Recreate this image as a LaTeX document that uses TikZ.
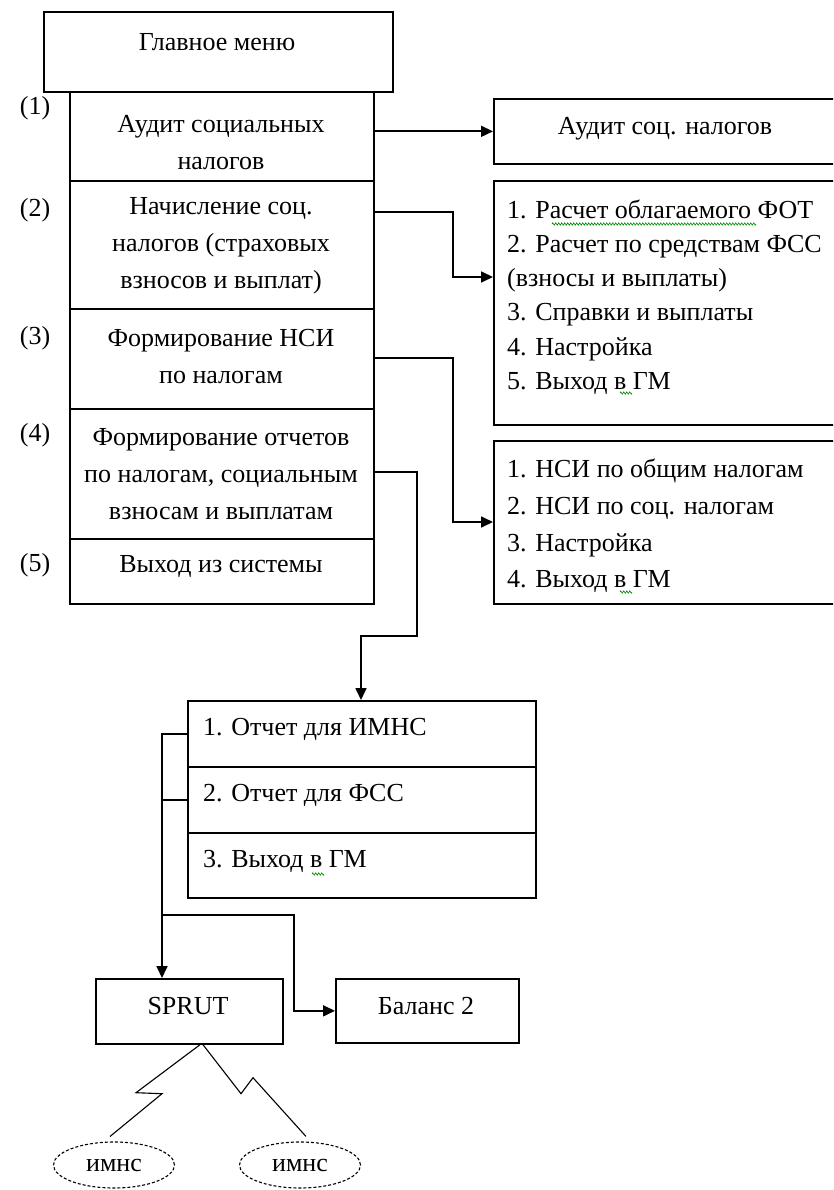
\documentclass[tikz,border=0pt]{standalone}
\usepackage{fontspec}
\setmainfont{Liberation Serif}
\usetikzlibrary{arrows.meta,calc,shapes.geometric,decorations.pathmorphing}

\begin{document}
\begin{tikzpicture}[x=1pt,y=-1pt,
  box/.style={draw, line width=1.7pt, inner sep=0pt, anchor=north west},
  txt/.style={font=\fontsize{26}{37}\selectfont, inner sep=0pt, align=center},
  ltxt/.style={font=\fontsize{26}{35}\selectfont, inner sep=0pt, align=left, anchor=west},
  num/.style={font=\fontsize{26}{30}\selectfont, inner sep=0pt},
  link/.style={line width=1.7pt, -{Triangle[length=12pt,width=11pt]}},
  wire/.style={line width=1.7pt},
  bolt/.style={line width=1.1pt},
  oval/.style={draw, ellipse, line width=1.1pt, dash pattern=on 3pt off 2pt,
    minimum width=121pt, minimum height=46pt, inner sep=0pt,
    font=\fontsize{26}{30}\selectfont},
  spell/.style={draw=green!55!black, line width=0.6pt, decorate,
    decoration={zigzag, segment length=3pt, amplitude=1.2pt}},
]
\useasboundingbox (0,0) rectangle (833,1190);
\clip (0,0) rectangle (833,1190);
\fill[white] (0,0) rectangle (833,1190);

% main menu and its items
\node[box, minimum width=349pt, minimum height=80pt] (gm) at (43,11) {};
\node[txt] (gmT) at (217,42) {Главное меню};

\node[box, minimum width=304pt, minimum height=89pt]  (item1) at (69,91) {};
\node[box, minimum width=304pt, minimum height=128pt] (item2) at (69,180) {};
\node[box, minimum width=304pt, minimum height=100pt] (item3) at (69,308) {};
\node[box, minimum width=304pt, minimum height=130pt] (item4) at (69,408) {};
\node[box, minimum width=304pt, minimum height=65pt]  (item5) at (69,538) {};

\node[txt] (item1T) at (221,143) {Аудит социальных\\налогов};
\node[txt] (item2T) at (221,246) {Начисление соц.\\налогов (страховых\\взносов и выплат)};
\node[txt] (item3T) at (221,357) {Формирование НСИ\\по налогам};
\node[txt] (item4T) at (221,474) {Формирование отчетов\\по налогам, социальным\\взносам и выплатам};
\node[txt] (item5T) at (221,566) {Выход из системы};

\node[num] (n1) at (35,108) {(1)};
\node[num] (n2) at (35,210) {(2)};
\node[num] (n3) at (35,338) {(3)};
\node[num] (n4) at (35,435) {(4)};
\node[num] (n5) at (35,565) {(5)};

% submenus on the right
\node[box, minimum width=360pt, minimum height=65pt]  (A) at (493,98) {};
\node[box, minimum width=360pt, minimum height=244pt] (B) at (493,180) {};
\node[box, minimum width=360pt, minimum height=163pt] (C) at (493,440) {};

\node[txt] (AT) at (665,129) {Аудит соц. налогов};
\node[ltxt, font=\fontsize{26}{34.2}\selectfont] (BT) at (507,297)
  {1. Расчет облагаемого ФОТ\\2. Расчет по средствам ФСС\\(взносы и выплаты)\\3. Справки и выплаты\\4. Настройка\\5. Выход в ГМ};
\node[ltxt, font=\fontsize{26}{36.7}\selectfont] (CT) at (507,526)
  {1. НСИ по общим налогам\\2. НСИ по соц. налогам\\3. Настройка\\4. Выход в ГМ};

% reports submenu
\node[box, minimum width=348pt, minimum height=66pt] (r1) at (187,700) {};
\node[box, minimum width=348pt, minimum height=66pt] (r2) at (187,766) {};
\node[box, minimum width=348pt, minimum height=65pt] (r3) at (187,832) {};
\node[ltxt] (r1T) at (203,729) {1. Отчет для ИМНС};
\node[ltxt] (r2T) at (203,795) {2. Отчет для ФСС};
\node[ltxt] (r3T) at (203,861) {3. Выход в ГМ};

% programs and receivers
\node[box, minimum width=187pt, minimum height=65pt] (sprut) at (95,978) {};
\node[box, minimum width=183pt, minimum height=64pt] (bal) at (335,978) {};
\node[txt] (sprutT) at (188,1006) {SPRUT};
\node[txt] (balT) at (426,1006) {Баланс 2};

\node[oval] (e1) at (114,1165) {имнс};
\node[oval] (e2) at (300,1165) {имнс};

% connectors
\draw[link] (item1.east |- A.west) -- (A.west);
\draw[link] ($(item2.north east)+(0,32)$) -| ($(B.north west)+(-40,97)$) -- ($(B.north west)+(0,97)$);
\draw[link] ($(item3.north east)+(0,50)$) -| ($(C.north west)+(-40,82)$) -- ($(C.north west)+(0,82)$);
\draw[link] ($(item4.north east)+(0,64)$) -| ($(item5.south east)+(42,31)$) -| ($(r1.north west)+(174,0)$);

\coordinate (bus) at ($(sprut.north west)+(67,0)$);
\draw[link] (r1.west) -| (bus);
\draw[wire] (r2.west) -- (r2.west -| bus);
\draw[link] ($(r3.south west)+(-25,16)$) -| ($(bal.west)+(-41,0)$) -- (bal.west);

\draw[bolt] ($(sprut.south west)+(105,0)$) -- ++(-64,48) -- ++(26,1) -- ($(e1.north)+(-4,-5)$);
\draw[bolt] ($(sprut.south west)+(108,0)$) -- ++(38,49) -- ++(12,-16) -- ($(e2.north)+(6,-5)$);

% spell-check marks
\draw[spell] (552,224) -- (756,224);
\draw[spell] (620,393) -- (632,393);
\draw[spell] (620,592) -- (632,592);
\draw[spell] (312,874) -- (324,874);
\end{tikzpicture}
\end{document}
